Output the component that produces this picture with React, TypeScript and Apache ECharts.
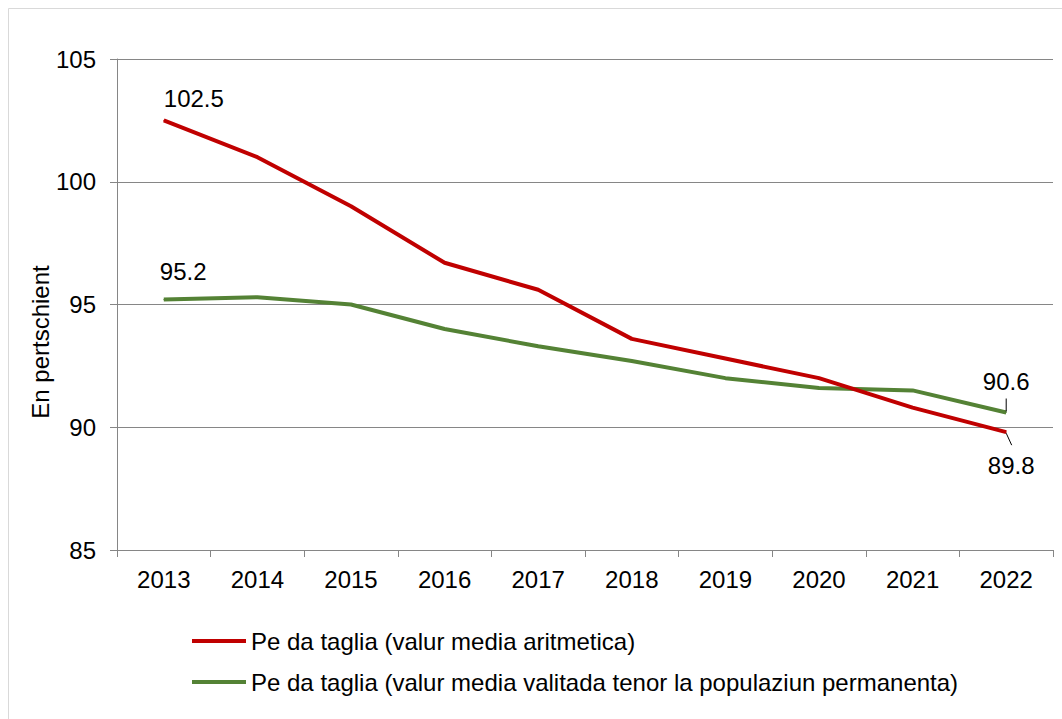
import React, { useEffect, useRef } from 'react';
import * as echarts from 'echarts';

const years = ['2013', '2014', '2015', '2016', '2017', '2018', '2019', '2020', '2021', '2022'];
const arithmeticMean = [102.5, 101.0, 99.0, 96.7, 95.6, 93.6, 92.8, 92.0, 90.8, 89.8];
const weightedMean = [95.2, 95.3, 95.0, 94.0, 93.3, 92.7, 92.0, 91.6, 91.5, 90.6];
const seriesNames = [
  'Pe da taglia (valur media aritmetica)',
  'Pe da taglia (valur media valitada tenor la populaziun permanenta)',
];
const yMin = 85;
const yMax = 105;
const yInterval = 5;
const yAxisTitle = 'En pertschient';

const FONT = "'Liberation Sans', Arial, Helvetica, sans-serif";
const RED = '#C00000';
const GREEN = '#548235';
const AXIS = '#868686';

export default function App() {
  const ref = useRef<HTMLDivElement>(null);

  useEffect(() => {
    if (!ref.current) return;
    const chart = echarts.init(ref.current, null, { renderer: 'svg' });
    const last = years.length - 1;
    const labelBase = { show: true, fontSize: 24, color: '#000', fontFamily: FONT };

    const redData = arithmeticMean.map((v, i) => {
      if (i === 0)
        return { value: v, label: { ...labelBase, position: 'top', align: 'left', distance: 9, offset: [0, 0] } };
      if (i === last)
        return { value: v, label: { ...labelBase, position: 'bottom', distance: 21, offset: [5, 0] } };
      return v;
    });
    const greenData = weightedMean.map((v, i) => {
      if (i === 0)
        return { value: v, label: { ...labelBase, position: 'top', align: 'left', distance: 16, offset: [-4, 0] } };
      if (i === last)
        return { value: v, label: { ...labelBase, position: 'top', distance: 19, offset: [0, 0] } };
      return v;
    });

    const baseGraphic: any[] = [
      {
        id: 'border',
        type: 'rect',
        silent: true,
        shape: { x: 8.5, y: 8.5, width: 1200, height: 900 },
        style: { fill: 'none', stroke: '#d9d9d9', lineWidth: 1 },
      },
      {
        id: 'ytitle',
        type: 'text',
        x: 40,
        y: 342,
        rotation: Math.PI / 2,
        style: {
          text: yAxisTitle,
          fontSize: 24,
          fontFamily: FONT,
          fill: '#000',
          align: 'center',
          verticalAlign: 'middle',
        },
      },
    ];

    const option: any = {
      animation: false,
      backgroundColor: '#fff',
      textStyle: { fontFamily: FONT },
      grid: { left: 117, right: 9, top: 59, bottom: 169, containLabel: false },
      legend: {
        orient: 'vertical',
        left: 192,
        top: 629,
        padding: 0,
        itemWidth: 54,
        itemHeight: 4,
        itemGap: 17,
        textStyle: { fontSize: 24, color: '#000', fontFamily: FONT, lineHeight: 24 },
        data: [
          { name: seriesNames[0], icon: 'rect' },
          { name: seriesNames[1], icon: 'rect' },
        ],
      },
      xAxis: {
        type: 'category',
        data: years,
        boundaryGap: true,
        axisLine: { show: true, lineStyle: { color: AXIS, width: 1 } },
        axisTick: { show: true, length: 7, alignWithLabel: false, lineStyle: { color: AXIS } },
        axisLabel: { fontSize: 24, color: '#000', margin: 17, fontFamily: FONT },
        splitLine: { show: false },
      },
      yAxis: {
        type: 'value',
        min: yMin,
        max: yMax,
        interval: yInterval,
        axisLine: { show: true, lineStyle: { color: AXIS, width: 1 } },
        axisTick: { show: true, length: 7, lineStyle: { color: AXIS } },
        axisLabel: { fontSize: 24, color: '#000', margin: 21, fontFamily: FONT },
        splitLine: { show: true, lineStyle: { color: AXIS, width: 1 } },
      },
      series: [
        {
          name: seriesNames[0],
          type: 'line',
          data: redData,
          symbol: 'circle',
          symbolSize: 1,
          showSymbol: true,
          itemStyle: { color: RED },
          lineStyle: { color: RED, width: 4 },
          label: { show: false },
          z: 3,
        },
        {
          name: seriesNames[1],
          type: 'line',
          data: greenData,
          symbol: 'circle',
          symbolSize: 1,
          showSymbol: true,
          itemStyle: { color: GREEN },
          lineStyle: { color: GREEN, width: 4 },
          label: { show: false },
          z: 2,
        },
      ],
      graphic: baseGraphic,
    };

    chart.setOption(option);

    const pRed = chart.convertToPixel({ seriesIndex: 0 }, [last, arithmeticMean[last]]) as number[];
    const pGreen = chart.convertToPixel({ seriesIndex: 1 }, [last, weightedMean[last]]) as number[];
    if (pRed && pGreen) {
      chart.setOption({
        graphic: [
          ...baseGraphic,
          {
            id: 'leaderGreen',
            type: 'line',
            silent: true,
            shape: { x1: pGreen[0], y1: pGreen[1] - 1, x2: pGreen[0], y2: pGreen[1] - 14 },
            style: { stroke: '#000', lineWidth: 1 },
            z: 10,
          },
          {
            id: 'leaderRed',
            type: 'line',
            silent: true,
            shape: { x1: pRed[0], y1: pRed[1] + 1, x2: pRed[0] + 5.5, y2: pRed[1] + 13 },
            style: { stroke: '#000', lineWidth: 1 },
            z: 10,
          },
        ],
      });
    }

    return () => chart.dispose();
  }, []);

  return (
    <div
      ref={ref}
      style={{ position: 'fixed', left: 0, top: 0, width: 1062, height: 719, background: '#fff' }}
    />
  );
}
